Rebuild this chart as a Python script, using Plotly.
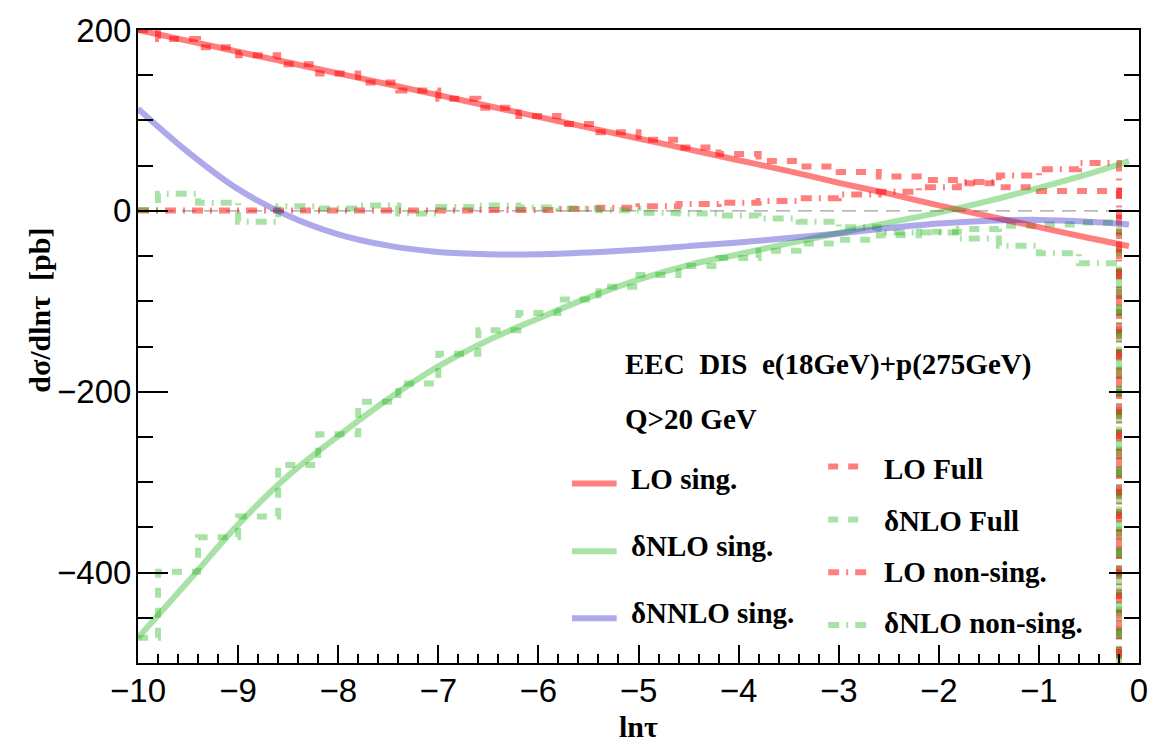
import plotly.graph_objects as go

# ---- smooth singular predictions (lnτ grid) ----
x_sing = [-10, -9.5, -9, -8.5, -8, -7.5, -7, -6.5, -6, -5.5, -5, -4.5, -4,
          -3.5, -3, -2.5, -2, -1.5, -1, -0.5, -0.1]
lo_sing = [200, 188, 176, 164, 152, 140, 128, 116, 104, 92, 80, 68, 56,
           44, 31, 19, 6, -6, -18, -30, -39]
dnlo_sing = [-472, -410, -347, -293, -249, -208, -172, -143, -119, -96, -76,
             -60, -48, -36, -24.5, -13, -2, 11, 25.5, 41, 55]
dnnlo_sing = [113, 65, 24, -5.5, -26, -38.5, -45.5, -48, -48, -46, -43, -39, -35,
              -30, -25, -19, -14, -11, -10, -12, -15]

# ---- binned results: bin centres (width 0.4) ----
bin_centers = [-10.0, -9.6, -9.2, -8.8, -8.4, -8.0, -7.6, -7.2, -6.8, -6.4,
               -6.0, -5.6, -5.2, -4.8, -4.4, -4.0, -3.6, -3.2, -2.8, -2.4,
               -2.0, -1.6, -1.2, -0.8, -0.4, 0.0]
lo_full = [200, 190, 181, 172, 162, 152, 142, 133, 124, 114,
           105, 96, 87, 78.5, 70, 63, 55, 49, 43, 38,
           34, 30.5, 26, 22, 22, -600]
dnlo_full = [-472, -399, -361, -338, -281, -247, -211, -191, -158, -132,
             -113, -98, -84, -71, -61, -52, -44, -36, -32, -27,
             -23, -20, -16.5, -15, -13, -600]
lo_nonsing = [0.5, 0.5, 0.5, 0.5, 0.5, 0.5, 0.5, 0.5, 0.5, 1,
              1, 2, 3.5, 5, 7.5, 9, 11, 14, 18, 21,
              26, 32, 39, 46, 53, -600]
dnlo_nonsing = [1, 19, 9, -12, 5, 2.6, 6, -3, 4.4, 6,
                3.7, 2.6, 0.7, -2, -3, -5, -8.5, -12, -18, -24,
                -24, -30.5, -38.5, -47, -58, -600]

RED = "rgba(255,0,0,0.5)"
GREEN = "rgba(30,180,20,0.38)"
BLUE = "rgba(40,30,200,0.38)"
DASH = "10px,10px"
DASHDOT = "11px,7px,2px,7px"
LW = 6

SERIF = "Liberation Serif"
SANS = "Liberation Sans"

fig = go.Figure()

# reference line at zero
fig.add_trace(go.Scatter(x=[-10, 0], y=[0, 0], mode="lines",
                         line=dict(color="rgb(160,160,160)", width=1.2, dash="14px,8px"),
                         showlegend=False, hoverinfo="skip"))

# histograms
for vals, col, dash in [(lo_full, RED, DASH), (dnlo_full, GREEN, DASH),
                        (lo_nonsing, RED, DASHDOT), (dnlo_nonsing, GREEN, DASHDOT)]:
    fig.add_trace(go.Scatter(x=bin_centers, y=vals, mode="lines",
                             line=dict(color=col, width=LW, dash=dash, shape="hvh"),
                             showlegend=False, hoverinfo="skip"))

# smooth curves
for vals, col in [(lo_sing, RED), (dnlo_sing, GREEN), (dnnlo_sing, BLUE)]:
    fig.add_trace(go.Scatter(x=x_sing, y=vals, mode="lines",
                             line=dict(color=col, width=LW, shape="spline", smoothing=1.0),
                             showlegend=False, hoverinfo="skip"))

# plot area in pixels: x 138..1146, y 28..663
L, R, T, B = 138, 1146, 28, 663


def px(xp):
    return (xp - L) / (R - L)


def py(yp):
    return (B - yp) / (B - T)


annotations = []
shapes = []


def text(s, xp, yp, size=29, anchor="left"):
    annotations.append(dict(text="<b>" + s + "</b>", x=px(xp), y=py(yp),
                            xref="paper", yref="paper", xanchor=anchor, yanchor="middle",
                            showarrow=False, font=dict(family=SERIF, size=size, color="black")))


text("EEC\u00a0\u00a0DIS\u00a0\u00a0e(18GeV)+p(275GeV)", 626, 364)
text("Q>20 GeV", 626, 418)

# legend – left column (solid)
left_entries = [("LO sing.", RED, 483, 478), ("δNLO sing.", GREEN, 551, 546),
                ("δNNLO sing.", BLUE, 618, 613)]
for label, col, ly, ty in left_entries:
    shapes.append(dict(type="line", xref="paper", yref="paper", x0=px(575), x1=px(620),
                       y0=py(ly), y1=py(ly), line=dict(color=col, width=LW)))
    text(label, 632, ty)

# legend – right column (dashed / dash-dotted)
right_entries = [("LO Full", RED, DASH, 466, 468), ("δNLO Full", GREEN, DASH, 519, 521),
                 ("LO non-sing.", RED, DASHDOT, 572, 572),
                 ("δNLO non-sing.", GREEN, DASHDOT, 625, 623)]
for label, col, dash, ly, ty in right_entries:
    shapes.append(dict(type="line", xref="paper", yref="paper", x0=px(833), x1=px(872),
                       y0=py(ly), y1=py(ly), line=dict(color=col, width=LW, dash=dash)))
    text(label, 887, ty)

# axis titles
annotations.append(dict(text="<b>lnτ</b>", x=0.5, y=py(727), xref="paper", yref="paper",
                        xanchor="center", yanchor="middle", showarrow=False,
                        font=dict(family=SERIF, size=30, color="black")))
annotations.append(dict(text="<b>dσ/dlnτ\u00a0\u00a0[pb]</b>", x=px(38), y=py(309),
                        xref="paper", yref="paper", xanchor="center", yanchor="middle",
                        textangle=-90, showarrow=False,
                        font=dict(family=SERIF, size=30, color="black")))

fig.update_layout(
    width=1160, height=744,
    margin=dict(l=L, r=1160 - R, t=T, b=744 - B),
    plot_bgcolor="white", paper_bgcolor="white",
    showlegend=False,
    annotations=annotations, shapes=shapes,
    xaxis=dict(range=[-10, 0], tick0=0, dtick=1, ticks="inside", ticklen=18,
               tickwidth=1.5, tickcolor="black", showline=True, linewidth=2,
               linecolor="black", mirror=True, showgrid=False, zeroline=False,
               tickfont=dict(family=SANS, size=33, color="black"),
               ticklabelstandoff=-3,
               minor=dict(dtick=0.2, ticklen=9, ticks="inside", tickwidth=1.5,
                          tickcolor="black", showgrid=False)),
    yaxis=dict(range=[-500, 200], tickvals=[-400, -200, 0, 200], ticks="inside",
               ticklen=30, tickwidth=1.5, tickcolor="black", showline=True,
               linewidth=2, linecolor="black", mirror="ticks", showgrid=False,
               zeroline=False, tickfont=dict(family=SANS, size=33, color="black"),
               ticklabelstandoff=-2,
               minor=dict(dtick=50, tick0=0, ticklen=15, ticks="inside", tickwidth=1.5,
                          tickcolor="black", showgrid=False)),
)

fig.write_html("out.html")
